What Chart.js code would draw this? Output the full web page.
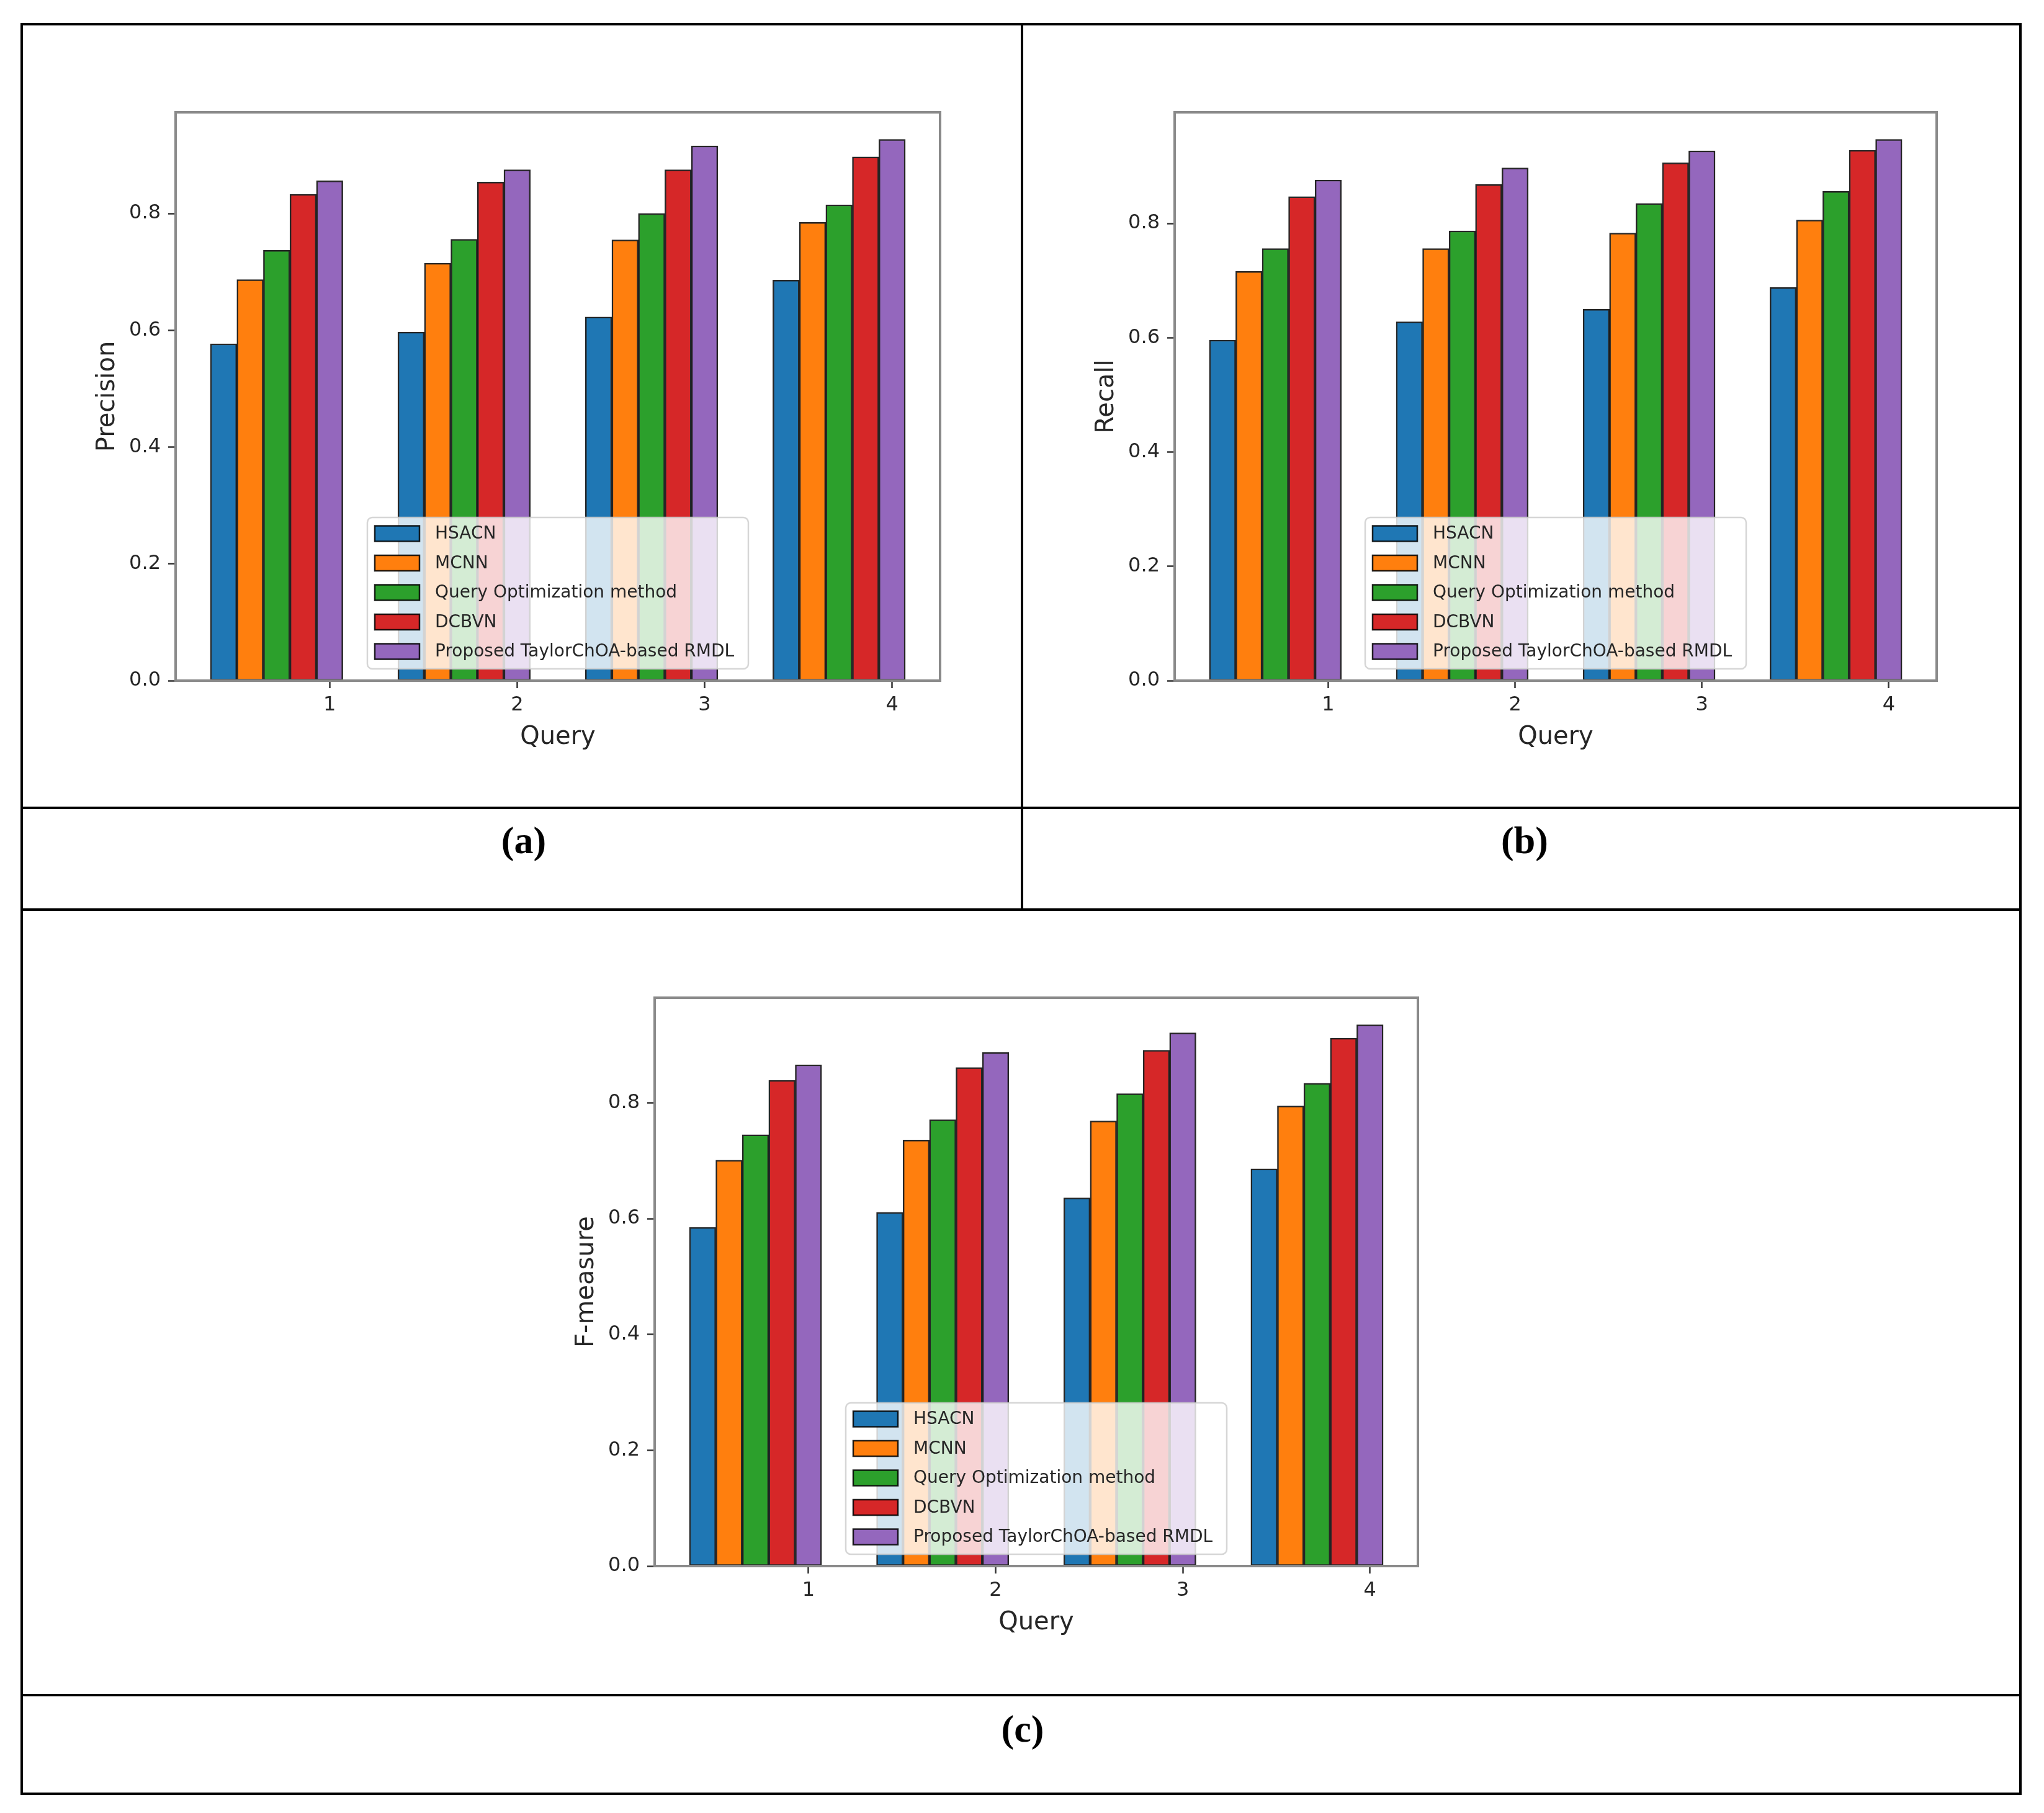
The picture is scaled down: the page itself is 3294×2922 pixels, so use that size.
<!DOCTYPE html>
<html>
<head>
<meta charset="utf-8">
<script src="https://cdn.jsdelivr.net/npm/chart.js@4.4.0/dist/chart.umd.min.js"></script>
<style>
  html, body { margin: 0; padding: 0; background: #ffffff; }
  body { width: 3294px; height: 2922px; position: relative; overflow: hidden; }
  .ln { position: absolute; background: #000; }
  .box { position: absolute; border: 4px solid #000; box-sizing: border-box; }
  .cap { position: absolute; font-family: "Liberation Serif", "DejaVu Serif", serif; font-weight: bold;
         font-size: 62px; line-height: 62px; color: #000; transform: translate(-50%, -50%); white-space: nowrap; }
  canvas { position: absolute; }
</style>
</head>
<body>
<div class="box" style="left:33px; top:37px; width:3225px; height:2856px;"></div>
<div class="ln" style="left:1645px; top:37px; width:4px; height:1431px;"></div>
<div class="ln" style="left:33px; top:1300px; width:3225px; height:4px;"></div>
<div class="ln" style="left:33px; top:1464px; width:3225px; height:4px;"></div>
<div class="ln" style="left:33px; top:2730px; width:3225px; height:4px;"></div>

<div class="cap" style="left:844px; top:1354px;">(a)</div>
<div class="cap" style="left:2457px; top:1354px;">(b)</div>
<div class="cap" style="left:1648px; top:2786px;">(c)</div>

<canvas id="chartA"></canvas>
<canvas id="chartB"></canvas>
<canvas id="chartC"></canvas>

<script>
// ---------------- data ----------------
const queries = [1, 2, 3, 4];
const methods = ['HSACN', 'MCNN', 'Query Optimization method', 'DCBVN', 'Proposed TaylorChOA-based RMDL'];
const yTickValues = [0.0, 0.2, 0.4, 0.6, 0.8];

// (a) Precision
const precisionHSACN    = [0.577, 0.597, 0.623, 0.686];
const precisionMCNN     = [0.687, 0.715, 0.755, 0.785];
const precisionQueryOpt = [0.737, 0.756, 0.800, 0.815];
const precisionDCBVN    = [0.833, 0.854, 0.875, 0.897];
const precisionProposed = [0.856, 0.875, 0.916, 0.927];

// (b) Recall
const recallHSACN    = [0.596, 0.628, 0.650, 0.688];
const recallMCNN     = [0.716, 0.756, 0.783, 0.806];
const recallQueryOpt = [0.756, 0.787, 0.835, 0.856];
const recallDCBVN    = [0.847, 0.868, 0.906, 0.928];
const recallProposed = [0.876, 0.897, 0.927, 0.947];

// (c) F-measure
const fmeasureHSACN    = [0.585, 0.611, 0.636, 0.686];
const fmeasureMCNN     = [0.701, 0.736, 0.769, 0.795];
const fmeasureQueryOpt = [0.745, 0.771, 0.816, 0.834];
const fmeasureDCBVN    = [0.839, 0.861, 0.891, 0.912];
const fmeasureProposed = [0.866, 0.887, 0.921, 0.935];

// ---------------- style ----------------
const colors = ['#1f77b4', '#ff7f0e', '#2ca02c', '#d62728', '#9467bd'];
const BAR_W = 0.1414;          // bar width in query units
const FONT = '"DejaVu Sans", "Liberation Sans", sans-serif';
const TEXT = '#262626';

// plot areas (page pixels)
const panels = [
  { id: 'chartA', title: 'Precision', series: [precisionHSACN, precisionMCNN, precisionQueryOpt, precisionDCBVN, precisionProposed],
    left: 283, top: 181, right: 1515, bottom: 1097 },
  { id: 'chartB', title: 'Recall', series: [recallHSACN, recallMCNN, recallQueryOpt, recallDCBVN, recallProposed],
    left: 1893, top: 181, right: 3121, bottom: 1097 },
  { id: 'chartC', title: 'F-measure', series: [fmeasureHSACN, fmeasureMCNN, fmeasureQueryOpt, fmeasureDCBVN, fmeasureProposed],
    left: 1055, top: 1608, right: 2285, bottom: 2524 }
];

const PAD_L = 250, PAD_T = 90, PAD_R = 100, PAD_B = 200;

const framePlugin = {
  id: 'mplFrame',
  afterDatasetsDraw(chart) {
    const { ctx, chartArea: a } = chart;
    ctx.save();
    ctx.strokeStyle = '#8a8a8a';
    ctx.lineWidth = 4;
    ctx.strokeRect(a.left, a.top, a.right - a.left, a.bottom - a.top);
    ctx.restore();
  }
};

const legendPlugin = {
  id: 'mplLegend',
  afterDraw(chart) {
    const { ctx, chartArea: a } = chart;
    const ds = chart.data.datasets;
    const boxW = 614, boxH = 244;
    const cx = (a.left + a.right) / 2;
    const bx = cx - boxW / 2, by = a.bottom - 19 - boxH;
    ctx.save();
    ctx.beginPath();
    if (ctx.roundRect) ctx.roundRect(bx, by, boxW, boxH, 8); else ctx.rect(bx, by, boxW, boxH);
    ctx.fillStyle = 'rgba(255,255,255,0.8)';
    ctx.fill();
    ctx.strokeStyle = 'rgba(204,204,204,0.8)';
    ctx.lineWidth = 2.5;
    ctx.stroke();
    ctx.font = '28px ' + FONT;
    ctx.textBaseline = 'middle';
    ctx.textAlign = 'left';
    for (let i = 0; i < ds.length; i++) {
      const cy = by + 26 + i * 47.5;
      ctx.fillStyle = ds[i].backgroundColor;
      ctx.fillRect(bx + 12, cy - 12.5, 72, 25);
      ctx.strokeStyle = 'rgba(0,0,0,0.85)';
      ctx.lineWidth = 2.5;
      ctx.strokeRect(bx + 12, cy - 12.5, 72, 25);
      ctx.fillStyle = TEXT;
      ctx.fillText(ds[i].label, bx + 109, cy + 1);
    }
    ctx.restore();
  }
};

function buildChart(p) {
  const canvas = document.getElementById(p.id);
  const w = (p.right - p.left) + PAD_L + PAD_R;
  const h = (p.bottom - p.top) + PAD_T + PAD_B;
  canvas.width = w; canvas.height = h;
  canvas.style.left = (p.left - PAD_L) + 'px';
  canvas.style.top = (p.top - PAD_T) + 'px';
  canvas.style.width = w + 'px';
  canvas.style.height = h + 'px';

  const datasets = p.series.map((vals, k) => ({
    label: methods[k],
    data: queries.map((q, i) => ({ x: q - (methods.length - 1 - k) * BAR_W, y: vals[i] })),
    backgroundColor: colors[k],
    borderColor: 'rgba(0,0,0,0.85)',
    borderWidth: 2.5,
    borderSkipped: false,
    grouped: false,
    barPercentage: 1,
    categoryPercentage: 1
  }));

  // matplotlib-like auto limits (5% x margins, 5% y headroom)
  const xs = datasets.flatMap(d => d.data.map(pt => pt.x));
  const lo = Math.min(...xs) - BAR_W / 2, hi = Math.max(...xs) + BAR_W / 2;
  const mx = 0.05 * (hi - lo);
  const yMax = 1.05 * Math.max(...p.series.flat());

  new Chart(canvas, {
    type: 'bar',
    data: { datasets },
    plugins: [framePlugin, legendPlugin],
    options: {
      responsive: false,
      devicePixelRatio: 1,
      animation: false,
      layout: { padding: { left: 0, top: PAD_T, right: PAD_R, bottom: 0 } },
      plugins: { legend: { display: false }, tooltip: { enabled: false } },
      scales: {
        x: {
          type: 'linear',
          min: lo - mx, max: hi + mx,
          offset: false,
          afterBuildTicks: s => { s.ticks = queries.map(v => ({ value: v })); },
          afterFit: s => { s.height = PAD_B; },
          ticks: { font: { family: FONT, size: 32 }, color: TEXT, padding: 8, autoSkip: false, maxRotation: 0,
                   callback: v => String(v) },
          grid: { display: true, drawOnChartArea: false, drawTicks: true, tickLength: 12,
                  tickColor: '#333', tickWidth: 2.5, offset: false },
          border: { display: false },
          title: { display: true, text: 'Query', color: TEXT, font: { family: FONT, size: 40 },
                   padding: { top: 0, bottom: PAD_B - 92 - 24 } }
        },
        y: {
          type: 'linear',
          min: 0, max: yMax,
          afterBuildTicks: s => { s.ticks = yTickValues.map(v => ({ value: v })); },
          afterFit: s => { s.width = PAD_L; },
          ticks: { font: { family: FONT, size: 32 }, color: TEXT, padding: 12,
                   callback: v => Number(v).toFixed(1) },
          grid: { display: true, drawOnChartArea: false, drawTicks: true, tickLength: 12,
                  tickColor: '#333', tickWidth: 2.5 },
          border: { display: false },
          title: { display: true, text: p.title, color: TEXT, font: { family: FONT, size: 40 },
                   padding: { top: PAD_L - 109 - 24, bottom: 0 } }
        }
      }
    }
  });
}

panels.forEach(buildChart);
</script>
</body>
</html>
